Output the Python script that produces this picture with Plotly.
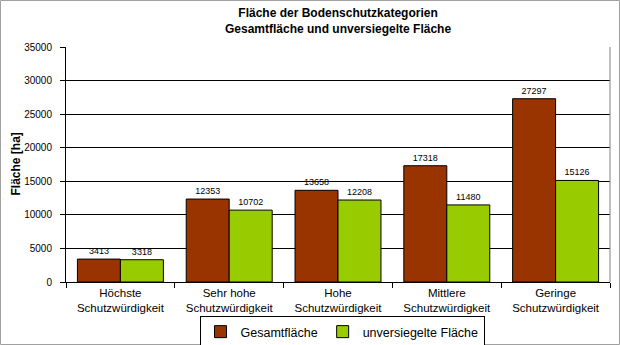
import plotly.graph_objects as go

categories = ["Höchste<br>Schutzwürdigkeit", "Sehr hohe<br>Schutzwürdigkeit", "Hohe<br>Schutzwürdigkeit",
              "Mittlere<br>Schutzwürdigkeit", "Geringe<br>Schutzwürdigkeit"]
gesamt = [3413, 12353, 13658, 17318, 27297]
unversiegelt = [3318, 10702, 12208, 11480, 15126]
yticks = [0, 5000, 10000, 15000, 20000, 25000, 30000, 35000]

FONT = "Liberation Sans, Arial, sans-serif"
PW, PH = 544, 235

fig = go.Figure()
fig.add_trace(go.Bar(x=categories, y=gesamt, name="Gesamtfläche",
                     marker=dict(color="#993300", line=dict(color="black", width=1)),
                     text=[str(v) for v in gesamt], textposition="outside",
                     textfont=dict(size=9, color="black", family=FONT), cliponaxis=False))
fig.add_trace(go.Bar(x=categories, y=unversiegelt, name="unversiegelte Fläche",
                     marker=dict(color="#99CC00", line=dict(color="black", width=1)),
                     text=[str(v) for v in unversiegelt], textposition="outside",
                     textfont=dict(size=9, color="black", family=FONT), cliponaxis=False))

fig.update_layout(
    width=620, height=345,
    margin=dict(l=66, r=10, t=47, b=63, autoexpand=False),
    paper_bgcolor="white", plot_bgcolor="white",
    font=dict(family=FONT, size=11, color="black"),
    barmode="group", bargap=0.21, bargroupgap=0,
    legend=dict(orientation="h", x=(342 - 66) / PW, xanchor="center", y=(282 - 316) / PH, yanchor="top",
                bordercolor="black", borderwidth=1, font=dict(size=12.5, family=FONT),
                itemwidth=30, tracegroupgap=0),
    showlegend=True,
    uniformtext=dict(minsize=9, mode="show"),
)
fig.update_yaxes(range=[0, 35000], tickvals=yticks, ticktext=[str(v) for v in yticks],
                 showgrid=True, gridcolor="black", gridwidth=1, automargin=False,
                 showline=True, linecolor="black", ticks="outside", ticklen=5, tickcolor="black",
                 tickfont=dict(size=10), ticklabelstandoff=6, zeroline=False)
fig.update_xaxes(showline=True, linecolor="black", ticks="outside", tickson="boundaries",
                 ticklen=5, tickcolor="black", tickfont=dict(size=11.5), automargin=False)

# plot area right border (gray)
fig.add_shape(type="line", xref="paper", yref="paper", x0=1, x1=1, y0=0, y1=1,
              line=dict(color="#808080", width=1))
# outer frame
fig.add_shape(type="rect", xref="paper", yref="paper",
              x0=-65.5 / PW, x1=1 + 9.5 / PW, y0=-62.5 / PH, y1=1 + 46.5 / PH,
              line=dict(color="#a0a0a0", width=1))
fig.add_annotation(text="<b>Fläche der Bodenschutzkategorien<br>Gesamtfläche und unversiegelte Fläche</b>",
                   xref="paper", yref="paper", x=(338 - 66) / PW, y=1 + (47 - 21) / PH,
                   xanchor="center", yanchor="middle", showarrow=False,
                   font=dict(size=12, family=FONT))
fig.add_annotation(text="<b>Fläche [ha]</b>", textangle=-90, xref="paper", yref="paper",
                   x=(15 - 66) / PW, y=0.5, xanchor="center", yanchor="middle",
                   showarrow=False, font=dict(size=12, family=FONT))

fig.write_html("out.html")
